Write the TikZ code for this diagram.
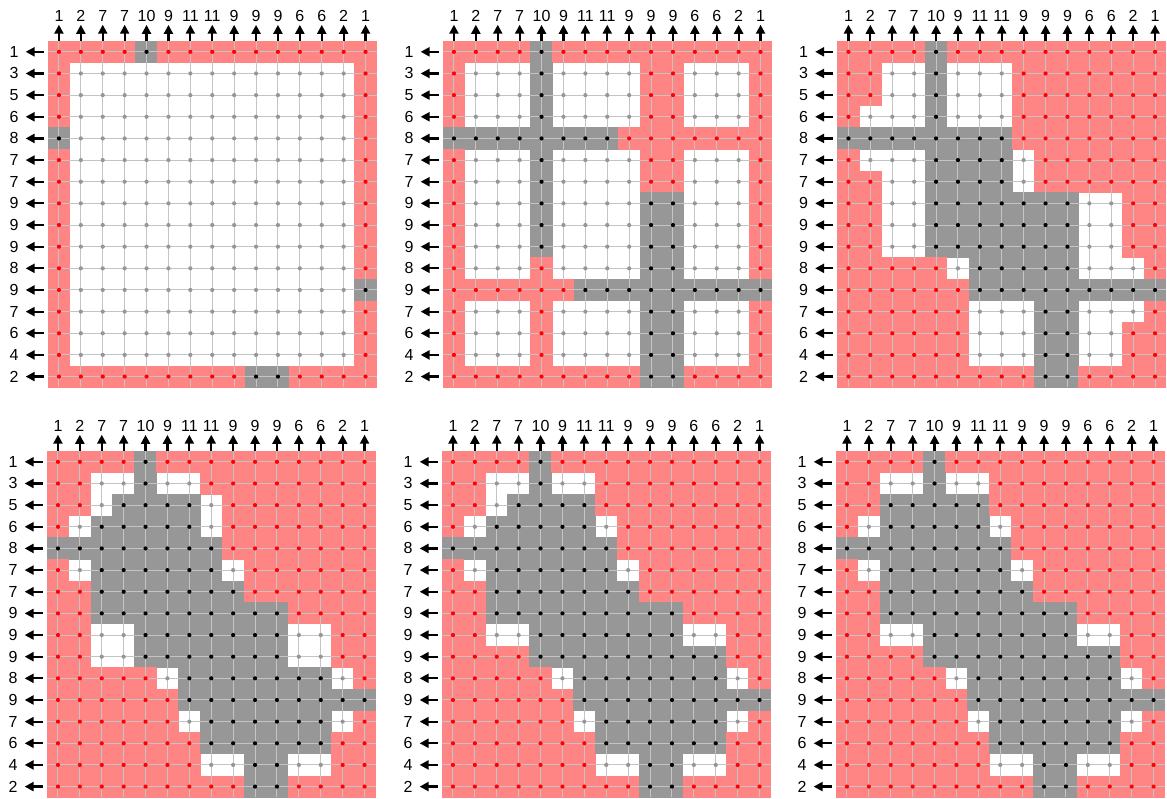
\documentclass[tikz,border=0pt]{standalone}
\usepackage{fontspec}
\setmainfont{Liberation Sans}
\usetikzlibrary{arrows.meta}
\definecolor{cellred}{RGB}{255,133,133}
\definecolor{cellgray}{RGB}{151,151,151}
\definecolor{gridline}{RGB}{196,196,196}
\definecolor{dotgray}{RGB}{150,150,150}
\definecolor{dotred}{RGB}{255,0,0}
\newcount\cellcol
\newcount\cellrow
\newif\ifdotpass
\def\cw{21.9}
\def\ch{21.65}
\tikzset{
  redcell/.style={fill=cellred},
  graycell/.style={fill=cellgray},
  reddot/.style={fill=dotred},
  blackdot/.style={fill=black},
  whitedot/.style={fill=dotgray},
  gridln/.style={draw=gridline,line width=1pt},
  labarrow/.style={line width=2.2pt,-{Triangle[length=9pt,width=9pt]}},
  collabel/.style={inner sep=3pt,font=\fontsize{16}{18}\selectfont},
  rowlabel/.style={inner sep=3pt,font=\fontsize{16}{18}\selectfont},
}
\def\cellfillR{\ifdotpass\fill[reddot] (\cx+\cw/2,\cy+\ch/2) circle[radius=2.1pt];\else\fill[redcell] (\cx-0.25,\cy-0.25) rectangle ++(\cw+0.5,\ch+0.5);\fi}
\def\cellfillG{\ifdotpass\fill[blackdot] (\cx+\cw/2,\cy+\ch/2) circle[radius=2.1pt];\else\fill[graycell] (\cx-0.25,\cy-0.25) rectangle ++(\cw+0.5,\ch+0.5);\fi}
\def\cellfillW{\ifdotpass\fill[whitedot] (\cx+\cw/2,\cy+\ch/2) circle[radius=2.1pt];\fi}
\def\celldraw#1{%
  \pgfmathsetmacro\cx{\px+\the\cellcol*\cw}%
  \pgfmathsetmacro\cy{\py+\the\cellrow*\ch}%
  \csname cellfill#1\endcsname
  \global\advance\cellcol by 1\relax}
\def\parsechars#1{\ifx#1\relax\else\celldraw{#1}\expandafter\parsechars\fi}
\newcommand\cellpass[1]{%
  \global\cellrow=0
  \foreach \rowstr in {#1}{%
    \global\cellcol=0
    \expandafter\parsechars\rowstr\relax
    \global\advance\cellrow by 1
  }}
\newcommand\gridpanel[4]{%
  \def\px{#1}\def\py{#2}%
  \dotpassfalse
  \cellpass{#3}%
  \foreach \i in {0,...,14}{\draw[gridln] ({#1+(\i+0.5)*\cw},#2) -- ({#1+(\i+0.5)*\cw},{#2+16*\ch});}
  \foreach \j in {0,...,15}{\draw[gridln] (#1,{#2+(\j+0.5)*\ch}) -- ({#1+15*\cw},{#2+(\j+0.5)*\ch});}
  \dotpasstrue
  \cellpass{#3}%
  \foreach \lab [count=\i from 0] in {1,2,7,7,10,9,11,11,9,9,9,6,6,2,1}{%
    \node[collabel] (c#4-\i) at ({#1+(\i+0.5)*\cw},{#2-25}) {\lab};
    \coordinate (ct#4-\i) at ({#1+(\i+0.5)*\cw},#2);
    \draw[labarrow] (ct#4-\i) -- (c#4-\i);
  }
  \foreach \lab [count=\j from 0] in {1,3,5,6,8,7,7,9,9,9,8,9,7,6,4,2}{%
    \node[rowlabel] (r#4-\j) at ({#1-34},{#2+(\j+0.5)*\ch}) {\lab};
    \coordinate (rt#4-\j) at ({#1-4.5},{#2+(\j+0.5)*\ch});
    \draw[labarrow,shorten >=4pt] (rt#4-\j) -- (r#4-\j);
  }
}
\begin{document}
\begin{tikzpicture}[x=1pt,y=-1pt]
\useasboundingbox (0,0) rectangle (1167,798);
\fill[white] (0,0) rectangle (1167,798);
\gridpanel{48}{41}{RRRRGRRRRRRRRRR,RWWWWWWWWWWWWWR,RWWWWWWWWWWWWWR,RWWWWWWWWWWWWWR,GWWWWWWWWWWWWWR,RWWWWWWWWWWWWWR,RWWWWWWWWWWWWWR,RWWWWWWWWWWWWWR,RWWWWWWWWWWWWWR,RWWWWWWWWWWWWWR,RWWWWWWWWWWWWWR,RWWWWWWWWWWWWWG,RWWWWWWWWWWWWWR,RWWWWWWWWWWWWWR,RWWWWWWWWWWWWWR,RRRRRRRRRGGRRRR}{a}
\gridpanel{443}{41}{RRRRGRRRRRRRRRR,RWWWGWWWWRRWWWR,RWWWGWWWWRRWWWR,RWWWGWWWWRRWWWR,GGGGGGGGRRRRRRR,RWWWGWWWWRRWWWR,RWWWGWWWWRRWWWR,RWWWGWWWWGGWWWR,RWWWGWWWWGGWWWR,RWWWGWWWWGGWWWR,RWWWRWWWWGGWWWR,RRRRRRGGGGGGGGG,RWWWRWWWWGGWWWR,RWWWRWWWWGGWWWR,RWWWRWWWWGGWWWR,RRRRRRRRRGGRRRR}{b}
\gridpanel{837.5}{41}{RRRRGRRRRRRRRRR,RRWWGWWWRRRRRRR,RRWWGWWWRRRRRRR,RWWWGWWWRRRRRRR,GGGGGGGGRRRRRRR,RWWWGGGGWRRRRRR,RRWWGGGGWRRRRRR,RRWWGGGGGGGWWRR,RRWWGGGGGGGWWRR,RRWWGGGGGGGWWRR,RRRRRWGGGGGWWWR,RRRRRRGGGGGGGGG,RRRRRRWWWGGWWWR,RRRRRRWWWGGWWRR,RRRRRRWWWGGWWRR,RRRRRRRRRGGRRRR}{c}
\gridpanel{47}{451}{RRRRGRRRRRRRRRR,RRWWGWWRRRRRRRR,RRWGGGGWRRRRRRR,RWGGGGGWRRRRRRR,GGGGGGGGRRRRRRR,RWGGGGGGWRRRRRR,RRGGGGGGGRRRRRR,RRGGGGGGGGGRRRR,RRWWGGGGGGGWWRR,RRWWGGGGGGGWWRR,RRRRRWGGGGGGGWR,RRRRRRGGGGGGGGG,RRRRRRWGGGGGGWR,RRRRRRRGGGGGGRR,RRRRRRRWWGGWWRR,RRRRRRRRRGGRRRR}{d}
\gridpanel{442}{451}{RRRRGRRRRRRRRRR,RRWWGWWRRRRRRRR,RRWGGGGRRRRRRRR,RWGGGGGWRRRRRRR,GGGGGGGGRRRRRRR,RWGGGGGGWRRRRRR,RRGGGGGGGRRRRRR,RRGGGGGGGGGRRRR,RRWWGGGGGGGWWRR,RRRRGGGGGGGGGRR,RRRRRWGGGGGGGWR,RRRRRRGGGGGGGGG,RRRRRRWGGGGGGWR,RRRRRRRGGGGGGRR,RRRRRRRWWGGWWRR,RRRRRRRRRGGRRRR}{e}
\gridpanel{836}{451}{RRRRGRRRRRRRRRR,RRWWGWWRRRRRRRR,RRGGGGGRRRRRRRR,RWGGGGGWRRRRRRR,GGGGGGGGRRRRRRR,RWGGGGGGWRRRRRR,RRGGGGGGGRRRRRR,RRGGGGGGGGGRRRR,RRWWGGGGGGGWWRR,RRRRGGGGGGGGGRR,RRRRRWGGGGGGGWR,RRRRRRGGGGGGGGG,RRRRRRWGGGGGGWR,RRRRRRRGGGGGGRR,RRRRRRRWWGGWWRR,RRRRRRRRRGGRRRR}{f}
\end{tikzpicture}
\end{document}
